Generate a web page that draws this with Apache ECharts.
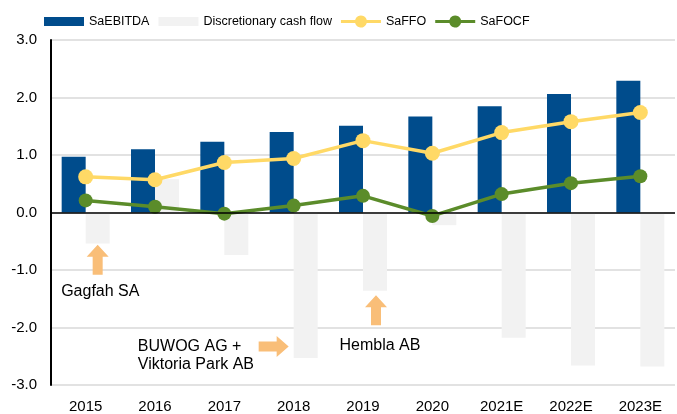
<!DOCTYPE html>
<html>
<head>
<meta charset="utf-8">
<script src="https://cdn.jsdelivr.net/npm/echarts@6/dist/echarts.min.js"></script>
<style>
  html, body { margin: 0; padding: 0; background: #fff; }
  #chart { width: 677px; height: 414px; }
</style>
</head>
<body>
<div id="chart"></div>
<script>
// 年份（类目）
const years = ['2015', '2016', '2017', '2018', '2019', '2020', '2021E', '2022E', '2023E']
// 各序列数值
const saEbitda = [0.97, 1.10, 1.23, 1.40, 1.51, 1.67, 1.85, 2.06, 2.29]
const discretionaryCashFlow = [-0.54, 0.58, -0.74, -2.53, -1.36, -0.22, -2.18, -2.66, -2.68]
const saFfo = [0.62, 0.57, 0.87, 0.94, 1.25, 1.03, 1.39, 1.58, 1.74]
const saFocf = [0.21, 0.10, -0.02, 0.12, 0.29, -0.06, 0.32, 0.51, 0.63]
const yTicks = [-3, -2, -1, 0, 1, 2, 3]

const FONT = 'Liberation Sans, Arial, sans-serif'
const ORANGE = '#f9be78'
const UP_ARROW = 'path://M11,0 L22,12 L16,12 L16,30 L6,30 L6,12 L0,12 Z'
const RIGHT_ARROW = 'path://M0,5.5 L18,5.5 L18,0 L30,10.5 L18,21 L18,15.5 L0,15.5 Z'
// 图例图标：矩形（高度 9，外框 40x12）和 线+圆点
const LEGEND_RECT = 'path://M0,1.5 L40,1.5 L40,10.5 L0,10.5 Z M0,0 L0.01,0 L0,0.01 Z M40,12 L39.99,12 L40,11.99 Z'
const LEGEND_LINE = 'path://M0,4.5 L14.19,4.5 A6,6 0 0 1 25.81,4.5 L40,4.5 L40,7.5 L25.81,7.5 A6,6 0 0 1 14.19,7.5 L0,7.5 Z'

// 注释文字（markPoint 锚点在灰色柱中心，再做像素偏移）
const textNote = (x, y, text, dx) => ({
  coord: [x, y],
  symbol: 'circle',
  symbolSize: 1,
  symbolOffset: [dx, 0],
  itemStyle: { color: 'rgba(0,0,0,0)' },
  label: {
    show: true,
    position: 'right',
    distance: 0,
    formatter: text,
    color: '#000',
    fontSize: 16,
    lineHeight: 18,
    fontFamily: FONT
  }
})
const arrowNote = (x, y, symbol, size, dx) => ({
  coord: [x, y],
  symbol: symbol,
  symbolSize: size,
  symbolOffset: [dx, 0],
  itemStyle: { color: ORANGE },
  label: { show: false }
})

const chart = echarts.init(document.getElementById('chart'))
chart.setOption({
  animation: false,
  textStyle: { fontFamily: FONT },
  legend: {
    left: 39,
    top: 10,
    itemWidth: 40,
    itemHeight: 12,
    itemGap: 9,
    textStyle: { fontSize: 12.5, color: '#000', fontFamily: FONT },
    data: [
      { name: 'SaEBITDA', icon: LEGEND_RECT },
      { name: 'Discretionary cash flow', icon: LEGEND_RECT },
      { name: 'SaFFO', icon: LEGEND_LINE },
      { name: 'SaFOCF', icon: LEGEND_LINE }
    ]
  },
  grid: { left: 51, right: 2, top: 40, bottom: 28, containLabel: false },
  xAxis: {
    type: 'category',
    data: years,
    axisLine: { show: false, onZero: false },
    axisTick: { show: false },
    axisLabel: { color: '#000', fontSize: 15, margin: 14, fontFamily: FONT },
    splitLine: { show: false }
  },
  yAxis: {
    type: 'value',
    min: yTicks[0],
    max: yTicks[yTicks.length - 1],
    interval: 1,
    axisLine: { show: true, lineStyle: { color: '#000', width: 2 } },
    axisTick: { show: false },
    axisLabel: {
      color: '#000',
      fontSize: 15,
      margin: 14,
      fontFamily: FONT,
      formatter: v => v.toFixed(1)
    },
    splitLine: { lineStyle: { color: '#d9d9d9', width: 1.5 } }
  },
  series: [
    {
      name: 'SaEBITDA',
      type: 'bar',
      data: saEbitda,
      barWidth: 24,
      barGap: '0%',
      itemStyle: { color: '#004c8c' },
      markLine: {
        silent: true,
        symbol: 'none',
        label: { show: false },
        lineStyle: { color: '#000', width: 1.5, type: 'solid' },
        data: [{ yAxis: 0 }]
      }
    },
    {
      name: 'Discretionary cash flow',
      type: 'bar',
      data: discretionaryCashFlow,
      barWidth: 24,
      itemStyle: { color: '#f2f2f2' },
      markPoint: {
        silent: true,
        data: [
          arrowNote('2015', -0.82, UP_ARROW, [22, 30], 0),
          textNote('2015', -1.38, 'Gagfah SA', -37),
          arrowNote('2018', -2.33, RIGHT_ARROW, [30, 21], -32),
          textNote('2017', -2.49, 'BUWOG AG +\nViktoria Park AB', -99),
          arrowNote('2019', -1.70, UP_ARROW, [22, 30], 1),
          textNote('2019', -2.32, 'Hembla AB', -36)
        ]
      }
    },
    {
      name: 'SaFFO',
      type: 'line',
      data: saFfo,
      symbol: 'circle',
      symbolSize: 15,
      z: 3,
      lineStyle: { color: '#ffd966', width: 3.5 },
      itemStyle: { color: '#ffd966' }
    },
    {
      name: 'SaFOCF',
      type: 'line',
      data: saFocf,
      symbol: 'circle',
      symbolSize: 14,
      z: 4,
      lineStyle: { color: '#5b8c2a', width: 3.5 },
      itemStyle: { color: '#5b8c2a' }
    }
  ]
})
</script>
</body>
</html>
